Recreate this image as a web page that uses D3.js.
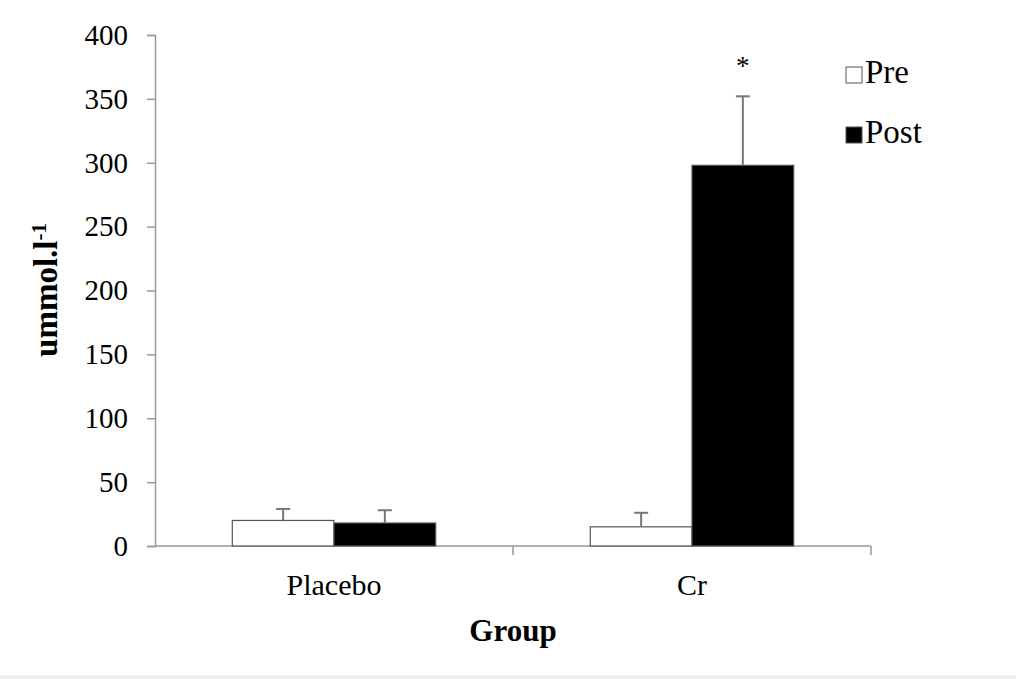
<!DOCTYPE html>
<html>
<head>
<meta charset="utf-8">
<script src="https://cdn.jsdelivr.net/npm/d3@7"></script>
<style>
  body { margin: 0; background: #fff; }
  text { font-family: "Liberation Serif", "Times New Roman", serif; }
</style>
</head>
<body>
<script>
// chart values
var groups = ["Placebo", "Cr"];
var phases = ["Pre", "Post"];
var means = [[20, 18], [15, 298]];   // [group][phase]
var errors = [[9, 10], [11, 54]];    // upward SD
var yTicks = [0, 50, 100, 150, 200, 250, 300, 350, 400];
var starred = [[false, false], [false, true]];

drawChart();

function drawChart(){

    var width = 1016, height = 679;
    var mLeft = 155, mRight = 871, mTop = 35, mBottom = 546;

    var svg = d3.select("body").append("svg")
        .attr("width", width)
        .attr("height", height);

    var x0 = d3.scaleBand()
        .domain(groups)
        .range([mLeft, mRight])
        .paddingInner(0)
        .paddingOuter(0);

    var x1 = d3.scaleBand()
        .domain(phases)
        .range([0, x0.bandwidth()])
        .paddingOuter(0.76)
        .paddingInner(0);

    var y = d3.scaleLinear()
        .domain([0, 400])
        .range([mBottom, mTop]);

    var fills = { Pre: "#fff", Post: "#000" };

    //y axis
    var yAxis = svg.append("g")
        .attr("transform", "translate(" + mLeft + ",0)")
        .call(d3.axisLeft(y).tickValues(yTicks).tickSize(8).tickPadding(19));
    yAxis.select(".domain").attr("stroke", "#999").attr("stroke-width", 1.5);
    yAxis.selectAll(".tick line").attr("stroke", "#999").attr("stroke-width", 1.5);
    yAxis.selectAll(".tick text")
        .attr("font-family", "Liberation Serif")
        .attr("font-size", 29)
        .attr("fill", "#000");

    //x axis line and ticks between groups
    svg.append("line")
        .attr("x1", mLeft).attr("x2", mRight)
        .attr("y1", mBottom).attr("y2", mBottom)
        .attr("stroke", "#999").attr("stroke-width", 1.5);

    var xTickPos = groups.map(function(g){ return x0(g) + x0.bandwidth(); });
    svg.selectAll(".xtick")
        .data(xTickPos)
        .enter()
        .append("line")
        .attr("x1", function(d){ return d; })
        .attr("x2", function(d){ return d; })
        .attr("y1", mBottom)
        .attr("y2", mBottom + 9)
        .attr("stroke", "#999").attr("stroke-width", 1.5);

    svg.selectAll(".xlabel")
        .data(groups)
        .enter()
        .append("text")
        .attr("x", function(d){ return x0(d) + x0.bandwidth() / 2; })
        .attr("y", mBottom + 49)
        .attr("text-anchor", "middle")
        .attr("font-size", 30)
        .text(function(d){ return d; });

    //bars
    var bars = [];
    groups.forEach(function(g, gi){
        phases.forEach(function(p, pi){
            bars.push({ group: g, phase: p, value: means[gi][pi], err: errors[gi][pi], star: starred[gi][pi] });
        });
    });

    var barG = svg.selectAll(".bar")
        .data(bars)
        .enter()
        .append("g");

    barG.append("rect")
        .attr("x", function(d){ return x0(d.group) + x1(d.phase); })
        .attr("y", function(d){ return y(d.value); })
        .attr("width", x1.bandwidth())
        .attr("height", function(d){ return y(0) - y(d.value); })
        .attr("fill", function(d){ return fills[d.phase]; })
        .attr("stroke", "#555")
        .attr("stroke-width", 1.2);

    //error bars
    barG.append("line")
        .attr("x1", function(d){ return x0(d.group) + x1(d.phase) + x1.bandwidth() / 2; })
        .attr("x2", function(d){ return x0(d.group) + x1(d.phase) + x1.bandwidth() / 2; })
        .attr("y1", function(d){ return y(d.value); })
        .attr("y2", function(d){ return y(d.value + d.err); })
        .attr("stroke", "#777").attr("stroke-width", 2);

    barG.append("line")
        .attr("x1", function(d){ return x0(d.group) + x1(d.phase) + x1.bandwidth() / 2 - 7; })
        .attr("x2", function(d){ return x0(d.group) + x1(d.phase) + x1.bandwidth() / 2 + 7; })
        .attr("y1", function(d){ return y(d.value + d.err); })
        .attr("y2", function(d){ return y(d.value + d.err); })
        .attr("stroke", "#777").attr("stroke-width", 2);

    //significance asterisk
    barG.filter(function(d){ return d.star; })
        .append("text")
        .attr("x", function(d){ return x0(d.group) + x1(d.phase) + x1.bandwidth() / 2; })
        .attr("y", function(d){ return y(d.value + d.err) - 21; })
        .attr("text-anchor", "middle")
        .attr("font-size", 27)
        .text("*");

    //legend
    var legend = svg.selectAll(".legend")
        .data(phases)
        .enter()
        .append("g")
        .attr("transform", function(d, i){ return "translate(846," + (67 + i * 60) + ")"; });

    legend.append("rect")
        .attr("width", 16).attr("height", 16)
        .attr("fill", function(d){ return fills[d]; })
        .attr("stroke", "#555").attr("stroke-width", 1);

    legend.append("text")
        .attr("x", 19)
        .attr("y", 16)
        .attr("font-size", 33)
        .text(function(d){ return d; });

    //axis titles
    svg.append("text")
        .attr("x", mLeft + (mRight - mLeft) / 2)
        .attr("y", 641)
        .attr("text-anchor", "middle")
        .attr("font-size", 31)
        .attr("font-weight", "bold")
        .text("Group");

    var yTitle = svg.append("text")
        .attr("transform", "translate(57,290) rotate(-90)")
        .attr("text-anchor", "middle")
        .attr("font-size", 33)
        .attr("font-weight", "bold");
    yTitle.append("tspan").text("ummol.l");
    yTitle.append("tspan").attr("dy", -11).attr("font-size", 21).text("-1");

    //faint frame edge at the bottom
    svg.append("rect")
        .attr("x", 0).attr("y", 675)
        .attr("width", width).attr("height", 4)
        .attr("fill", "#eeeeee");
}
</script>
</body>
</html>
